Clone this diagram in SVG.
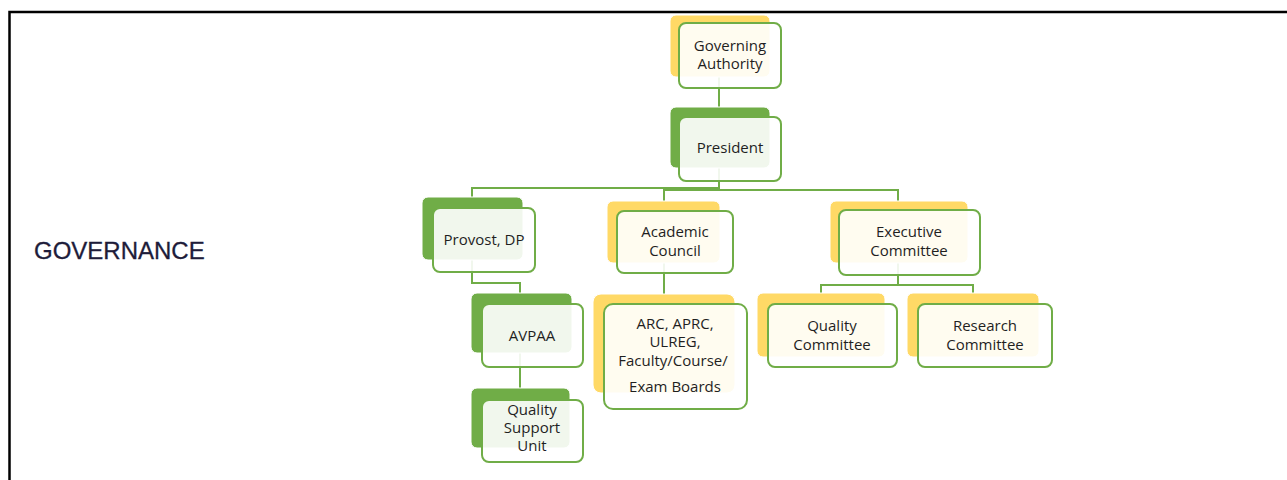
<svg xmlns="http://www.w3.org/2000/svg" width="1287" height="480" viewBox="0 0 1287 480">
<style>
.bg{fill:#ffffff}
.frame{fill:none;stroke:#000000;stroke-width:2.5}
.conn line,.conn path{fill:none;stroke:#70AD47;stroke-width:2}
.by{fill:#FFD966;stroke:#ffffff;stroke-width:1}
.bgr{fill:#70AD47;stroke:#ffffff;stroke-width:1}
.fr{fill:#ffffff;fill-opacity:0.9;stroke:#70AD47;stroke-width:2}
.t{font-family:"Open Sans","Liberation Sans",sans-serif;font-size:15px;fill:#1f1f1f;text-anchor:middle}
.title{font-family:"Liberation Sans",Arial,sans-serif;font-size:24px;fill:#1E1C3A;stroke:#1E1C3A;stroke-width:0.3}
</style>
<rect class="bg" x="0" y="0" width="1287" height="480"/>
<path class="frame" d="M9.5 480 V12 H1287"/>
<text class="title" x="34" y="259">GOVERNANCE</text>

<g id="connectors" class="conn">
<path d="M719 77 V107"/>
<path d="M719 168 V188 H472 V197"/>
<path d="M719 188 V190 H664 V202"/>
<path d="M719 190 H898 V201"/>
<path d="M472 260 V283 H520 V293"/>
<path d="M520 353 V388"/>
<path d="M664 263 V294"/>
<path d="M898 263 V285 H821 V293"/>
<path d="M898 285 H973 V293"/>
</g>

<g id="governing-authority">
<rect class="by" x="670" y="15" width="100" height="62" rx="6"/>
<rect class="fr" x="679" y="23" width="102" height="65" rx="7"/>
<text class="t" x="730" y="51">Governing</text>
<text class="t" x="730" y="69">Authority</text>
</g>

<g id="president">
<rect class="bgr" x="670" y="107" width="100" height="61" rx="6"/>
<rect class="fr" x="679" y="117" width="102" height="64" rx="7"/>
<text class="t" x="730" y="153">President</text>
</g>

<g id="provost">
<rect class="bgr" x="422" y="197" width="101" height="63" rx="6"/>
<rect class="fr" x="433" y="208" width="102" height="64" rx="7"/>
<text class="t" x="484" y="245">Provost, DP</text>
</g>

<g id="avpaa">
<rect class="bgr" x="471" y="293" width="101" height="60" rx="6"/>
<rect class="fr" x="482" y="304" width="101" height="63" rx="7"/>
<text class="t" x="532" y="341">AVPAA</text>
</g>

<g id="quality-support-unit">
<rect class="bgr" x="471" y="388" width="99" height="60" rx="6"/>
<rect class="fr" x="482" y="400" width="101" height="62" rx="7"/>
<text class="t" x="532" y="415">Quality</text>
<text class="t" x="532" y="433">Support</text>
<text class="t" x="532" y="451">Unit</text>
</g>

<g id="academic-council">
<rect class="by" x="607" y="201" width="113" height="62" rx="6"/>
<rect class="fr" x="617" y="211" width="116" height="62" rx="7"/>
<text class="t" x="675" y="237">Academic</text>
<text class="t" x="675" y="256">Council</text>
</g>

<g id="arc-boards">
<rect class="by" x="593" y="294" width="142" height="99" rx="8"/>
<rect class="fr" x="604" y="304" width="143" height="105" rx="9"/>
<text class="t" x="675" y="329">ARC, APRC,</text>
<text class="t" x="675" y="347">ULREG,</text>
<text class="t" x="673" y="366">Faculty/Course/</text>
<text class="t" x="675" y="392">Exam Boards</text>
</g>

<g id="executive-committee">
<rect class="by" x="830" y="201" width="138" height="62" rx="6"/>
<rect class="fr" x="839" y="210" width="141" height="65" rx="7"/>
<text class="t" x="909" y="237">Executive</text>
<text class="t" x="909" y="256">Committee</text>
</g>

<g id="quality-committee">
<rect class="by" x="757" y="293" width="128" height="64" rx="6"/>
<rect class="fr" x="768" y="304" width="129" height="63" rx="7"/>
<text class="t" x="832" y="331">Quality</text>
<text class="t" x="832" y="350">Committee</text>
</g>

<g id="research-committee">
<rect class="by" x="907" y="293" width="132" height="64" rx="6"/>
<rect class="fr" x="918" y="304" width="134" height="63" rx="7"/>
<text class="t" x="985" y="331">Research</text>
<text class="t" x="985" y="350">Committee</text>
</g>
</svg>
